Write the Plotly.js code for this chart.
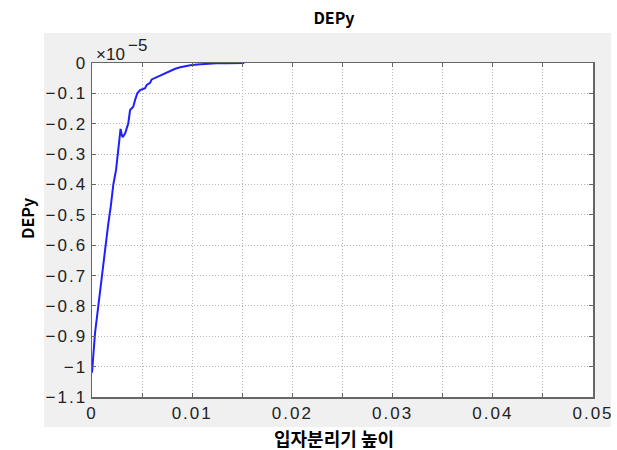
<!DOCTYPE html>
<html>
<head>
<meta charset="utf-8">
<script src="https://cdn.plot.ly/plotly-3.0.1.min.js"></script>
<style>
html,body{margin:0;padding:0;background:#fff;}
#chart{width:617px;height:450px;}
.xtick text, .ytick text { letter-spacing: 2px; }
</style>
</head>
<body>
<div id="chart"></div>
<script>
// Height of particle separator (x) vs DEPy (y, in units of 1e-5)
const height = [0, 0.00015, 0.0003, 0.00063, 0.00097, 0.0013, 0.00163, 0.00187, 0.00213, 0.0024,
  0.00255, 0.00272, 0.0028, 0.00285, 0.00298, 0.00306, 0.0033, 0.00362, 0.0038, 0.00412,
  0.0043, 0.00452, 0.0048, 0.0053, 0.00546, 0.0058, 0.00596, 0.0063, 0.0068, 0.0073,
  0.0078, 0.0083, 0.0088, 0.0093, 0.0098, 0.0105, 0.0111, 0.0118, 0.0124, 0.0135, 0.0152];
const depy = [-1.02, -0.96, -0.89, -0.80, -0.70, -0.605, -0.528, -0.473, -0.40, -0.352,
  -0.31, -0.265, -0.222, -0.217, -0.238, -0.244, -0.232, -0.199, -0.155, -0.144,
  -0.122, -0.10, -0.089, -0.083, -0.072, -0.065, -0.054, -0.049, -0.040, -0.032,
  -0.025, -0.019, -0.014, -0.010, -0.0077, -0.005, -0.003, -0.002, -0.001, -0.0005, 0];
const titleText = "DEPy";
const xLabel = "입자분리기 높이";
const yLabel = "DEPy";
const exponentBase = "×10";
const exponentPower = "−5";

const tickFont = {family: "Liberation Sans, Arial, sans-serif", size: 17, color: "#222"};
const labelFont = {family: "Noto Sans CJK KR, Noto Sans, sans-serif", size: 18, color: "#000"};

const trace = {
  x: height, y: depy, type: "scatter", mode: "lines",
  line: {color: "#1f1fff", width: 2},
  hoverinfo: "skip"
};

const gridStyle = {gridcolor: "#b5b5b5", griddash: "1px,2px", gridwidth: 1};

// plot area in pixels: x 92..593, y 63..397
const PW = 501, PH = 334, PL = 92, PT = 63;
const px = v => (v - PL) / PW;          // pixel x -> paper x
const py = v => (PT + PH - v) / PH;     // pixel y -> paper y

const layout = {
  width: 617, height: 450,
  margin: {l: 92, r: 24, t: 63, b: 53},
  paper_bgcolor: "#ffffff",
  plot_bgcolor: "#ffffff",
  showlegend: false,
  title: {
    text: "<b>" + titleText + "</b>",
    font: {family: "Noto Sans CJK KR, Noto Sans, sans-serif", size: 16, color: "#000"},
    x: 334 / 617, xref: "container", xanchor: "center",
    y: 1 - 18 / 450, yref: "container", yanchor: "middle"
  },
  xaxis: Object.assign({
    range: [0, 0.05], dtick: 0.01, tick0: 0,
    tickformat: "~g",
    showgrid: true,
    minor: Object.assign({dtick: 0.005, tick0: 0, showgrid: true, ticks: "inside", ticklen: 4, tickcolor: "#666"}, gridStyle),
    ticks: "inside", ticklen: 4, tickcolor: "#666",
    showline: true, linecolor: "#666", linewidth: 1.5, mirror: "ticks",
    zeroline: false,
    tickfont: tickFont
  }, gridStyle),
  yaxis: Object.assign({
    range: [-1.1, 0], dtick: 0.1, tick0: 0,
    showgrid: true,
    ticks: "inside", ticklen: 4, tickcolor: "#666",
    showline: true, linecolor: "#666", linewidth: 1.5, mirror: "ticks",
    zeroline: false,
    tickfont: tickFont
  }, gridStyle),
  shapes: [
    {type: "rect", xref: "paper", yref: "paper", layer: "below",
     x0: px(44), x1: px(611), y0: py(427), y1: py(33),
     fillcolor: "#f0f0f0", line: {width: 0}},
    {type: "rect", xref: "x domain", yref: "y domain", layer: "below",
     x0: 0, x1: 1, y0: 0, y1: 1,
     fillcolor: "#ffffff", line: {width: 0}},
    {type: "rect", xref: "paper", yref: "paper", layer: "above",
     x0: px(611), x1: 1.2, y0: -0.2, y1: 1.2,
     fillcolor: "#ffffff", line: {width: 0}}
  ],
  annotations: [
    {text: exponentBase, xref: "paper", yref: "paper", x: px(94), y: py(62), xanchor: "left", yanchor: "bottom",
     showarrow: false, font: tickFont, yshift: -4},
    {text: exponentPower, xref: "paper", yref: "paper", x: px(126), y: py(53), xanchor: "left", yanchor: "bottom",
     showarrow: false, font: tickFont, yshift: -4},
    {text: "<b>" + xLabel + "</b>", xref: "paper", yref: "paper", x: px(334), y: py(438),
     xanchor: "center", yanchor: "middle", showarrow: false, font: labelFont},
    {text: "<b>" + yLabel + "</b>", xref: "paper", yref: "paper", x: px(27), y: py(219),
     xanchor: "center", yanchor: "middle", textangle: -90, showarrow: false,
     font: {family: labelFont.family, size: 16, color: "#000"}}
  ]
};

Plotly.newPlot("chart", [trace], layout, {displayModeBar: false, staticPlot: true});
</script>
</body>
</html>
